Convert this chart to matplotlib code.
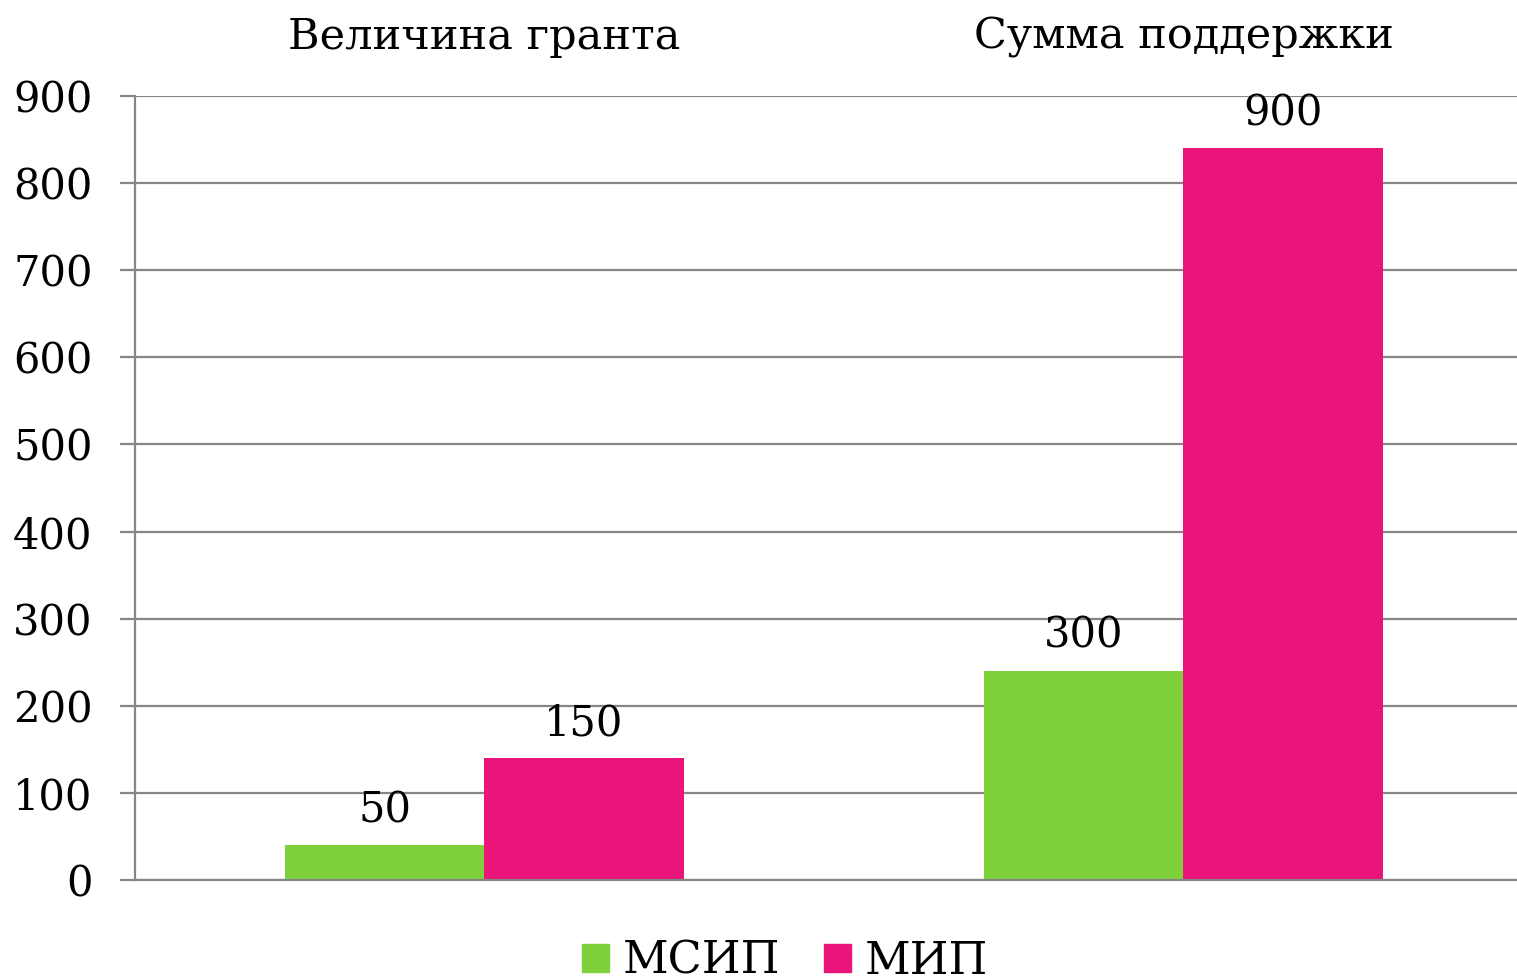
import numpy as np
import matplotlib.pyplot as plt
from matplotlib.patches import Patch

# Data
categories = ["Величина гранта", "Сумма поддержки"]
series = ["МСИП", "МИП"]
heights_msip = [40, 240]     # bar heights as drawn
heights_mip = [140, 840]
labels_msip = ["50", "300"]  # labels as written above bars
labels_mip = ["150", "900"]
yticks = [0, 100, 200, 300, 400, 500, 600, 700, 800, 900]

green = "#7FD13B"
pink = "#EA157A"
grey = "#868686"

plt.rcParams['font.family'] = ['DejaVu Serif']

fig = plt.figure(figsize=(15.17, 9.8), dpi=100)
# plot area runs a little past the right edge of the picture
ax = fig.add_axes([135/1517, 1 - 880/980, (1533 - 135)/1517, (880 - 96)/980])

x = np.arange(len(categories))
w = 0.285
b1 = ax.bar(x - w/2, heights_msip, w, color=green, zorder=3)
b2 = ax.bar(x + w/2, heights_mip, w, color=pink, zorder=3)

for bars, labs in [(b1, labels_msip), (b2, labels_mip)]:
    for bar, lab in zip(bars, labs):
        ax.text(bar.get_x() + bar.get_width()/2, bar.get_height() + 16, lab,
                ha='center', va='bottom', fontsize=30)

ax.set_xlim(-0.5, 1.5)
ax.set_ylim(0, 900)
ax.set_yticks(yticks)
ax.set_yticklabels([str(t) for t in yticks], fontsize=30)
ax.yaxis.grid(True, color=grey, linewidth=1.6, zorder=0)
ax.tick_params(axis='y', length=10.5, width=1.6, color=grey, pad=20)

ax.xaxis.tick_top()
ax.set_xticks(x)
ax.set_xticklabels(categories, fontsize=31)
ax.tick_params(axis='x', length=0, pad=27)

for s in ['top', 'right']:
    ax.spines[s].set_visible(False)
ax.spines['left'].set_color(grey)
ax.spines['left'].set_linewidth(1.6)
ax.spines['bottom'].set_color(grey)
ax.spines['bottom'].set_linewidth(1.6)
ax.spines['bottom'].set_zorder(4)

handles = [Patch(color=green, label=series[0]), Patch(color=pink, label=series[1])]
fig.legend(handles=handles, loc='center', bbox_to_anchor=(785/1517, 1 - 961/980),
           ncol=2, frameon=False, fontsize=32, handlelength=0.6, handleheight=0.6,
           handletextpad=0.3, columnspacing=1.0)

fig.savefig("out.png", dpi=100)
